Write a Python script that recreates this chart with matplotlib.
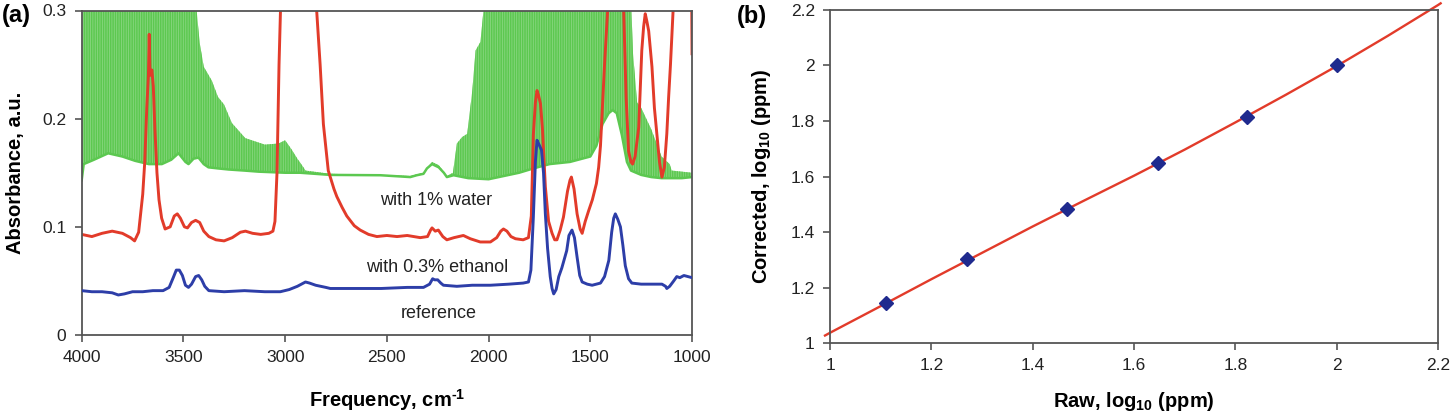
import matplotlib
matplotlib.use("Agg")
import matplotlib.pyplot as plt
import numpy as np

plt.rcParams['font.family'] = ['Liberation Sans', 'DejaVu Sans']
plt.rcParams['mathtext.fontset'] = 'custom'
plt.rcParams['mathtext.rm'] = 'Liberation Sans:bold'
plt.rcParams['mathtext.bf'] = 'Liberation Sans:bold'
plt.rcParams['hatch.linewidth'] = 1.1

# ---------------- Panel (a) data: FTIR spectra ----------------
# reference (blue)
ref_freq = [4000, 3950, 3900, 3850, 3820, 3790, 3750, 3700, 3650, 3600, 3570, 3550, 3535, 3520,
            3505, 3490, 3475, 3460, 3440, 3425, 3410, 3395, 3375, 3300, 3200, 3100, 3024, 2980,
            2940, 2900, 2880, 2850, 2800, 2778, 2700, 2528, 2400, 2320, 2290, 2275, 2265, 2250,
            2235, 2222, 2156, 2080, 1991, 1900, 1830, 1804, 1792, 1780, 1770, 1762, 1752, 1740,
            1730, 1721, 1710, 1697, 1688, 1680, 1668, 1655, 1640, 1625, 1616, 1605, 1590, 1578,
            1565, 1552, 1540, 1515, 1491, 1450, 1430, 1409, 1395, 1385, 1377, 1365, 1352, 1340,
            1328, 1312, 1296, 1250, 1197, 1148, 1130, 1124, 1110, 1090, 1075, 1060, 1040, 1020, 1000]
ref_abs = [0.041, 0.040, 0.040, 0.039, 0.037, 0.038, 0.040, 0.040, 0.041, 0.041, 0.044, 0.053, 0.060, 0.060,
           0.055, 0.046, 0.044, 0.047, 0.054, 0.055, 0.051, 0.045, 0.041, 0.040, 0.041, 0.040, 0.040, 0.042,
           0.045, 0.049, 0.048, 0.046, 0.044, 0.043, 0.043, 0.043, 0.044, 0.044, 0.047, 0.052, 0.051, 0.051,
           0.048, 0.046, 0.045, 0.046, 0.046, 0.047, 0.048, 0.049, 0.060, 0.109, 0.160, 0.180, 0.176, 0.171,
           0.150, 0.112, 0.080, 0.054, 0.043, 0.038, 0.042, 0.054, 0.062, 0.072, 0.078, 0.092, 0.097, 0.090,
           0.072, 0.055, 0.049, 0.047, 0.046, 0.048, 0.054, 0.069, 0.095, 0.108, 0.112, 0.107, 0.100, 0.083,
           0.064, 0.052, 0.048, 0.047, 0.047, 0.047, 0.045, 0.043, 0.045, 0.050, 0.054, 0.053, 0.055, 0.054, 0.053]

# with 0.3% ethanol (red)
eth_freq = [4000, 3950, 3900, 3850, 3800, 3760, 3740, 3720, 3700, 3690, 3680, 3672, 3668, 3664, 3655,
            3648, 3640, 3630, 3620, 3607, 3590, 3565, 3545, 3530, 3515, 3495, 3480, 3460, 3440, 3420,
            3400, 3375, 3340, 3300, 3260, 3220, 3195, 3160, 3120, 3080, 3060, 3050, 3040, 3030, 3020,
            2950, 2850, 2845, 2828, 2812, 2788, 2760, 2746, 2720, 2697, 2660, 2631, 2590, 2549, 2500,
            2450, 2400, 2336, 2300, 2285, 2278, 2262, 2247, 2225, 2205, 2170, 2124, 2090, 2041, 1991,
            1960, 1940, 1927, 1910, 1890, 1868, 1830, 1804, 1790, 1780, 1770, 1762, 1755, 1745, 1735,
            1721, 1705, 1688, 1675, 1664, 1648, 1632, 1612, 1600, 1593, 1580, 1565, 1550, 1540, 1525,
            1508, 1490, 1470, 1459, 1450, 1442, 1430, 1418, 1408, 1370, 1340, 1336, 1324, 1312, 1300,
            1292, 1280, 1262, 1247, 1238, 1230, 1222, 1213, 1197, 1185, 1173, 1160, 1148, 1136, 1124,
            1115, 1106, 1098, 1088, 1040, 1002, 1000]
eth_abs = [0.093, 0.091, 0.094, 0.096, 0.094, 0.090, 0.087, 0.095, 0.130, 0.160, 0.210, 0.240, 0.278, 0.240, 0.245,
           0.230, 0.190, 0.150, 0.125, 0.108, 0.098, 0.100, 0.110, 0.112, 0.108, 0.100, 0.099, 0.104, 0.106, 0.104,
           0.096, 0.091, 0.088, 0.087, 0.090, 0.095, 0.096, 0.094, 0.093, 0.094, 0.096, 0.105, 0.150, 0.250, 0.320,
           0.400, 0.320, 0.300, 0.250, 0.195, 0.152, 0.135, 0.128, 0.118, 0.110, 0.101, 0.097, 0.093, 0.091, 0.092,
           0.091, 0.092, 0.090, 0.091, 0.097, 0.099, 0.096, 0.097, 0.091, 0.088, 0.090, 0.092, 0.089, 0.086, 0.086,
           0.090, 0.096, 0.098, 0.096, 0.091, 0.089, 0.088, 0.090, 0.110, 0.185, 0.215, 0.226, 0.222, 0.214, 0.190,
           0.137, 0.105, 0.094, 0.088, 0.088, 0.097, 0.109, 0.133, 0.143, 0.146, 0.135, 0.112, 0.098, 0.094, 0.105,
           0.115, 0.125, 0.140, 0.155, 0.175, 0.205, 0.250, 0.290, 0.320, 0.400, 0.320, 0.300, 0.220, 0.170, 0.160,
           0.158, 0.165, 0.192, 0.263, 0.285, 0.297, 0.290, 0.281, 0.248, 0.210, 0.186, 0.160, 0.146, 0.155, 0.186,
           0.220, 0.250, 0.280, 0.320, 0.400, 0.320, 0.260]

# with 1% water (green): lower envelope of the dense water-vapour lines
wat_lo_freq = [4000, 3990, 3940, 3870, 3800, 3737, 3670, 3606, 3560, 3524, 3490, 3475, 3450, 3426,
               3400, 3377, 3330, 3278, 3200, 3130, 3000, 2926, 2778, 2532, 2385, 2353, 2320, 2303,
               2278, 2245, 2220, 2205, 2172, 2100, 2000, 1950, 1850, 1780, 1700, 1600, 1500, 1470,
               1440, 1410, 1390, 1370, 1345, 1320, 1300, 1250, 1200, 1150, 1100, 1050, 1000]
wat_lo_abs = [0.143, 0.158, 0.162, 0.168, 0.165, 0.161, 0.158, 0.158, 0.162, 0.168, 0.160, 0.158, 0.163, 0.164,
              0.158, 0.155, 0.154, 0.153, 0.152, 0.151, 0.150, 0.150, 0.148, 0.1477, 0.146, 0.1477, 0.149, 0.154,
              0.158, 0.155, 0.150, 0.146, 0.1477, 0.145, 0.144, 0.146, 0.150, 0.154, 0.158, 0.160, 0.165, 0.175,
              0.195, 0.205, 0.208, 0.205, 0.185, 0.160, 0.152, 0.148, 0.146, 0.145, 0.145, 0.145, 0.146]
# upper envelope of the dense water-vapour lines
wat_hi_freq = [4000, 3995, 3985, 3440, 3420, 3400, 3360, 3330, 3300, 3262, 3196, 3100, 3033, 3000,
               2970, 2940, 2910, 2900, 2778, 2532, 2385, 2320, 2278, 2245, 2205, 2175, 2156, 2130,
               2105, 2080, 2064, 2040, 2020, 1300, 1290, 1270, 1250, 1200, 1150, 1110, 1100, 1000]
wat_hi_abs = [0.143, 0.300, 0.310, 0.310, 0.270, 0.248, 0.235, 0.220, 0.213, 0.196, 0.182, 0.176, 0.177, 0.180,
              0.172, 0.163, 0.155, 0.152, 0.149, 0.148, 0.147, 0.150, 0.160, 0.157, 0.147, 0.150, 0.177, 0.183,
              0.186, 0.226, 0.263, 0.271, 0.310, 0.310, 0.260, 0.215, 0.210, 0.190, 0.165, 0.158, 0.152, 0.150]

a_xticks = [4000, 3500, 3000, 2500, 2000, 1500, 1000]
a_yticks = [0, 0.1, 0.2, 0.3]
a_yticklabels = ['0', '0.1', '0.2', '0.3']
curve_labels = ['with 1% water', 'with 0.3% ethanol', 'reference']
label_freq = [2258, 2252, 2245]
label_abs = [0.1245, 0.062, 0.020]

# ---------------- Panel (b) data: calibration ----------------
raw_vals = [1.110, 1.271, 1.467, 1.648, 1.822, 2.001]
corr_vals = [1.143, 1.302, 1.482, 1.648, 1.816, 2.002]
fit_x = [0.99, 1.0, 1.1, 1.2, 1.3, 1.4, 1.5, 1.6, 1.7, 1.8, 1.9, 2.0, 2.1, 2.2, 2.205]
fit_y = [1.027, 1.037, 1.133, 1.230, 1.325, 1.420, 1.512, 1.603, 1.697, 1.795, 1.895, 1.998, 2.106, 2.218, 2.224]
b_ticks = [1, 1.2, 1.4, 1.6, 1.8, 2, 2.2]
b_ticklabels = ['1', '1.2', '1.4', '1.6', '1.8', '2', '2.2']

GREEN = '#5cc850'
RED = '#e23b2a'
BLUE = '#2d3ea8'
SPINE = '#555555'
TICKFS = 12.5
LABFS = 14.5

fig = plt.figure(figsize=(14.56, 4.2), dpi=100)
ax = fig.add_axes([0.0561, 0.2024, 0.4192, 0.7726])
bx = fig.add_axes([0.5701, 0.1833, 0.4176, 0.7929])

# ---- panel (a) ----
poly_x = list(wat_lo_freq) + list(wat_hi_freq)[::-1]
poly_y = list(wat_lo_abs) + list(wat_hi_abs)[::-1]
ax.fill(poly_x, poly_y, facecolor=GREEN, alpha=0.72, linewidth=0, zorder=1)
ax.fill(poly_x, poly_y, facecolor='none', edgecolor=GREEN, hatch='|||||||', linewidth=0, zorder=1.1)
ax.plot(wat_lo_freq, wat_lo_abs, color=GREEN, lw=1.8, zorder=1.2)
ax.plot(eth_freq, eth_abs, color=RED, lw=2.1, zorder=2)
ax.plot(ref_freq, ref_abs, color=BLUE, lw=2.1, zorder=3)

for t, fx, fy in zip(curve_labels, label_freq, label_abs):
    ax.text(fx, fy, t, ha='center', va='center', fontsize=13, color='#222222', zorder=4)

ax.set_xlim(4000, 1000)
ax.set_ylim(0, 0.3)
ax.set_xticks(a_xticks)
ax.set_xticklabels([str(v) for v in a_xticks])
ax.set_yticks(a_yticks)
ax.set_yticklabels(a_yticklabels)
ax.set_xlabel(r'Frequency, cm$^{\text{-}1}$', fontsize=LABFS, fontweight='bold', va='center')
ax.xaxis.set_label_coords(0.5, -0.20)
ax.set_ylabel('Absorbance, a.u.', fontsize=LABFS, fontweight='bold', va='center')
ax.yaxis.set_label_coords(-0.108, 0.5)

# ---- panel (b) ----
bx.plot(fit_x, fit_y, color=RED, lw=1.7, zorder=2, clip_on=False)
bx.plot(raw_vals, corr_vals, linestyle='none', marker='D', ms=7.5, color='#1f2a8e',
        markeredgecolor='#1f2a8e', zorder=3)
bx.set_xlim(1, 2.2)
bx.set_ylim(1, 2.2)
bx.set_xticks(b_ticks)
bx.set_xticklabels(b_ticklabels)
bx.set_yticks(b_ticks)
bx.set_yticklabels(b_ticklabels)
bx.set_xlabel(r'Raw, log$_{\mathbf{10}}$ (ppm)', fontsize=LABFS, fontweight='bold', va='center')
bx.xaxis.set_label_coords(0.5, -0.177)
bx.set_ylabel(r'Corrected, log$_{\mathbf{10}}$ (ppm)', fontsize=LABFS, fontweight='bold', va='center')
bx.yaxis.set_label_coords(-0.1135, 0.5)

for a in (ax, bx):
    for s in a.spines.values():
        s.set_color(SPINE)
        s.set_linewidth(1.3)
    a.tick_params(direction='out', length=5, width=1.2, color=SPINE, labelsize=TICKFS,
                  labelcolor='#222222', pad=6)

fig.text(0.001, 0.962, '(a)', fontsize=17, fontweight='bold', ha='left', va='center')
fig.text(0.506, 0.961, '(b)', fontsize=17, fontweight='bold', ha='left', va='center')

fig.savefig('out.png', dpi=100)
